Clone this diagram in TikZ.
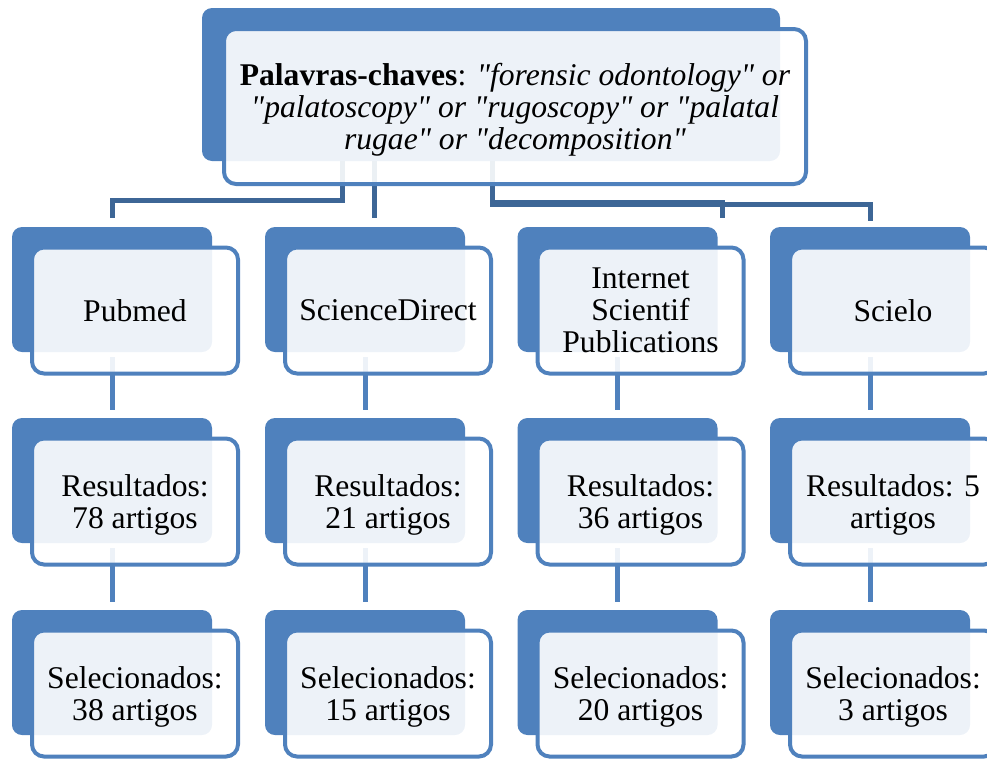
\documentclass[tikz,border=0pt]{standalone}
\usepackage{fontspec}
\setmainfont{Liberation Serif}[Ligatures=TeXOff]
\definecolor{boxblue}{HTML}{4F81BD}
\definecolor{linkblue}{HTML}{3D6696}

\begin{document}
\begin{tikzpicture}[x=1pt,y=-1pt]
        \tikzstyle{back}=[rectangle,rounded corners=10pt,fill=boxblue,inner sep=0pt,minimum width=200pt,minimum height=125pt]
        \tikzstyle{front}=[rectangle,rounded corners=12pt,draw=boxblue,line width=4pt,fill=white,fill opacity=0.9,text opacity=1,inner sep=0pt,minimum width=206pt,minimum height=126pt,align=center,text depth=-7pt,font=\fontsize{31.6}{32}\selectfont]
        \tikzstyle{toplink}=[draw=linkblue,line width=5pt]
        \tikzstyle{rowlink}=[draw=boxblue,line width=5pt,shorten <=5pt,shorten >=8pt]
        \useasboundingbox (0,0) rectangle (987,758);
        \clip (0,0) rectangle (987,758);
        % dark boxes behind
        \node[back,minimum width=578pt,minimum height=153pt] (kw-b) at (491,84.5) {};
        \foreach \n/\x in {pub/112,sd/365,isp/617.5,sci/870}{
            \node[back] (\n-b) at (\x,289.5) {};
            \node[back] (\n-res-b) at (\x,480.5) {};
            \node[back] (\n-sel-b) at (\x,672.5) {};
            \draw[rowlink] (\n-b) -- (\n-res-b);
            \draw[rowlink] (\n-res-b) -- (\n-sel-b);
        }
        % links from the keywords
        \draw[toplink] ([xshift=-149pt]kw-b.south) -- ++(0,39) -| ([yshift=9pt]pub-b.north);
        \draw[toplink] ([xshift=-117pt]kw-b.south) -- ([xshift=9pt,yshift=9pt]sd-b.north);
        \draw[toplink] ([xshift=1pt]kw-b.south) -- ++(0,41) -| ([xshift=104.5pt,yshift=9pt]isp-b.north);
        \draw[toplink] ([xshift=1pt]kw-b.south) -- ++(0,43) -| ([yshift=6pt]sci-b.north);
        % light boxes with text
        \node[front,minimum width=582pt,minimum height=155pt] (kw) at (515,106.5) {\textbf{Palavras-chaves}: \textit{"forensic odontology" or}\\\textit{"palatoscopy" or "rugoscopy" or "palatal}\\\textit{rugae" or "decomposition"}};
        \foreach \n/\x/\a/\b/\c in {pub/135/Pubmed/{Resultados:\\78 artigos}/{Selecionados:\\38 artigos},
                                    sd/388/ScienceDirect/{Resultados:\\21 artigos}/{Selecionados:\\15 artigos},
                                    isp/640.5/{Internet\\Scientif\\Publications}/{Resultados:\\36 artigos}/{Selecionados:\\20 artigos},
                                    sci/893/Scielo/{Resultados: 5\\artigos}/{Selecionados:\\3 artigos}}{
            \node[front] (\n) at (\x,310.5) {\a};
            \node[front] (\n-res) at (\x,501.5) {\b};
            \node[front] (\n-sel) at (\x,693.5) {\c};
        }
\end{tikzpicture}
\end{document}
